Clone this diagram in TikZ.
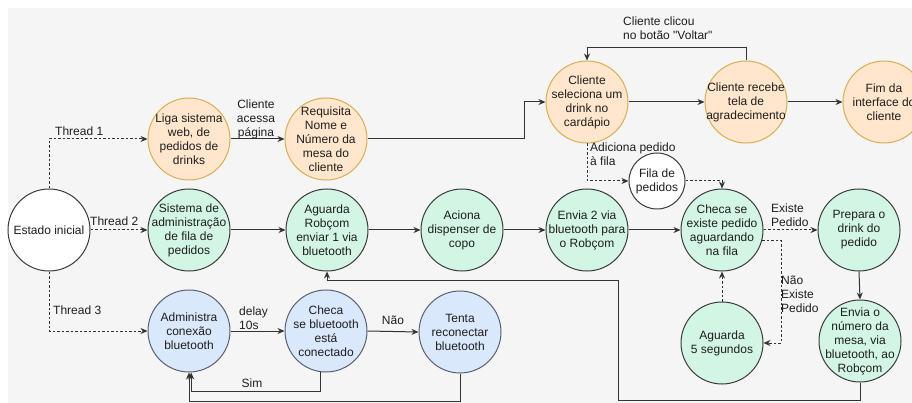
\documentclass[tikz,border=0pt]{standalone}
\usepackage{fontspec}
\newfontfamily\arialf{Liberation Sans}
\usetikzlibrary{arrows.meta}
\definecolor{bg}{HTML}{F5F5F5}
\definecolor{ofill}{HTML}{FFE6CC}
\definecolor{odraw}{HTML}{D9AE55}
\definecolor{gfill}{HTML}{D2F5E4}
\definecolor{gdraw}{HTML}{3A3A3A}
\definecolor{bfill}{HTML}{DAE8FC}
\definecolor{bdraw}{HTML}{5A6070}
\definecolor{ln}{HTML}{333333}
\definecolor{tx}{HTML}{1E1E1E}
\begin{document}
\begin{tikzpicture}[x=1pt,y=-1pt,
  circ/.style={circle, minimum size=82pt, inner sep=0pt, line width=1pt},
  og/.style={circ, fill=ofill, draw=odraw},
  gr/.style={circ, fill=gfill, draw=gdraw},
  bl/.style={circ, fill=bfill, draw=bdraw},
  wh/.style={circ, fill=white, draw=gdraw},
  tl/.style={align=center, font=\arialf\fontsize{12}{14}\selectfont, text=tx, inner sep=0pt, draw=none, fill=none, shape=rectangle, minimum size=0pt},
  lab/.style={align=left, font=\arialf\fontsize{12}{14}\selectfont, text=tx, inner sep=0pt},
  conn/.style={draw=ln, line width=1pt, -{Stealth[length=7pt,width=6pt]}},
  dconn/.style={conn, dash pattern=on 2.5pt off 2pt}]
\useasboundingbox (0,0) rectangle (912,403);
\fill[bg] (8,8) rectangle (912,403);

\node[wh, label={[tl]center:Estado inicial}] (est) at (49,230) {};
\node[og, label={[tl]center:{Liga sistema\\web, de\\pedidos de\\drinks}}] (liga) at (189,139) {};
\node[og, label={[tl]center:{Requisita\\Nome e\\Número da\\mesa do\\cliente}}] (req) at (326,139) {};
\node[og, label={[tl]center:{Cliente\\seleciona um\\drink no\\cardápio}}] (sel) at (587,102) {};
\node[og, label={[tl]center:{Cliente recebe\\tela de\\agradecimento}}] (rec) at (746,102) {};
\node[og, label={[tl]center:{Fim da\\interface do\\cliente}}] (fim) at (884,102) {};
\node[wh, minimum size=56pt, label={[tl]center:{Fila de\\pedidos}}] (fila) at (657,181) {};
\node[gr, label={[tl]center:{Sistema de\\administração\\de fila de\\pedidos}}] (sis) at (189,230) {};
\node[gr, label={[tl]center:{Aguarda\\Robçom\\enviar 1 via\\bluetooth}}] (agr) at (327,230) {};
\node[gr, label={[tl]center:{Aciona\\dispenser de\\copo}}] (aci) at (462,230) {};
\node[gr, label={[tl]center:{Envia 2 via\\bluetooth para\\o Robçom}}] (env2) at (587,230) {};
\node[gr, label={[tl]center:{Checa se\\existe pedido\\aguardando\\na fila}}] (chk) at (722,230) {};
\node[gr, label={[tl]center:{Prepara o\\drink do\\pedido}}] (prep) at (859,230) {};
\node[gr, label={[tl]center:{Envia o\\número da\\mesa, via\\bluetooth, ao\\Robçom}}] (envn) at (860,341) {};
\node[gr, label={[tl]center:{Aguarda\\5 segundos}}] (ag5) at (722,343) {};
\node[bl, label={[tl]center:{Administra\\conexão\\bluetooth}}] (adm) at (189,331) {};
\node[bl, label={[tl]center:{Checa\\se bluetooth\\está\\conectado}}] (chb) at (326,331) {};
\node[bl, label={[tl]center:{Tenta\\reconectar\\bluetooth}}] (ten) at (460,332) {};

\draw[dconn] (est.north) |- (liga.west);
\draw[dconn] (est.east) -- (sis.west);
\draw[dconn] (est.south) |- (adm.west);
\draw[conn] (liga.east) -- (req.west);
\draw[conn] (req.east) -- ++(157,0) |- (sel.west);
\draw[conn] (sel.east) -- (rec.west);
\draw[conn] (rec.east) -- (fim.west);
\draw[conn] (rec.north) -- ++(0,-13) -| (sel.north);
\draw[dconn] (sel.south) |- (fila.west);
\draw[dconn] (fila.east) -| (chk.north);
\draw[conn] (sis.east) -- (agr.west);
\draw[conn] (agr.east) -- (aci.west);
\draw[conn] (aci.east) -- (env2.west);
\draw[conn] (env2.east) -- (chk.west);
\draw[dconn] (chk.east) -- (prep.west);
\draw[dconn] (chk.-15) -- ++(19,0) |- (ag5.east);
\draw[dconn] (ag5.north) -- (chk.south);
\draw[conn] (prep.south) -- (envn.north);
\draw[conn] (envn.south) -- ++(0,18) -| (618,280) -| (agr.south);
\draw[conn] (adm.east) -- (chb.west);
\draw[conn] (chb.east) -- (ten.west);
\draw[conn] (chb.-97) -- ++(0,19) -| (adm.-87);
\draw[conn] (ten.south) -- ++(0,28) -| (adm.south);

\node[lab, anchor=west] (t1) at (55,131) {Thread 1};
\node[lab, anchor=west] (t2) at (90,221) {Thread 2};
\node[lab, anchor=west] (t3) at (53,310) {Thread 3};
\node[lab, align=center] (lacc) at (256,119) {Cliente\\acessa\\página};
\node[lab, anchor=west] (lclic) at (623,28) {Cliente clicou\\no botão "Voltar"};
\node[lab, anchor=west] (ladd) at (590,154) {Adiciona pedido\\à fila};
\node[lab, anchor=west] (lex) at (771,215) {Existe\\Pedido};
\node[lab, anchor=west] (lnex) at (781,294) {Não\\Existe\\Pedido};
\node[lab, anchor=west] (ldel) at (239,318) {delay\\10s};
\node[lab] (lnao) at (393,320) {Não};
\node[lab] (lsim) at (252,383) {Sim};
\end{tikzpicture}
\end{document}
